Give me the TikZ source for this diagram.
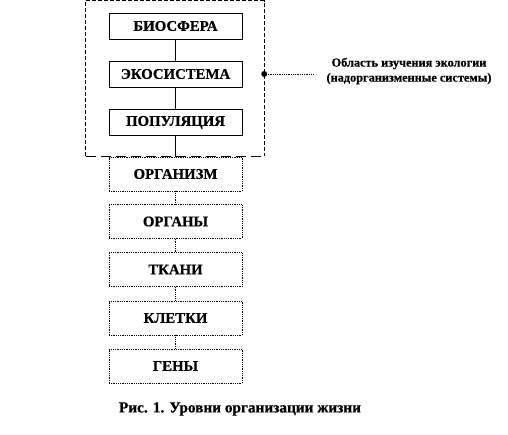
\documentclass[tikz,border=0pt]{standalone}
\usepackage{fontspec}
\setmainfont{Liberation Serif}[BoldFeatures={FakeBold=0.6}]
\begin{document}
\begin{tikzpicture}[x=1pt,y=-1pt,
  lvl/.style={draw, line width=0.8pt, minimum width=133pt, inner sep=0pt, font=\fontsize{14.8}{16}\selectfont\bfseries},
  solidlvl/.style={lvl, minimum height=26pt},
  dotlvl/.style={lvl, densely dotted, minimum height=34pt},
  link/.style={line width=0.8pt},
  dotlink/.style={line width=0.8pt, densely dotted}]
\useasboundingbox (0,0) rectangle (508,435);
\node[solidlvl] (bio) at (175.5,26) {БИОСФЕРА};
\node[solidlvl] (eco) at (175.5,74) {ЭКОСИСТЕМА};
\node[solidlvl] (pop) at (175.5,122.5) {ПОПУЛЯЦИЯ};
\node[dotlvl] (org) at (175.5,174) {ОРГАНИЗМ};
\node[dotlvl] (orgs) at (175.5,221.5) {ОРГАНЫ};
\node[dotlvl] (tis) at (175.5,269.5) {ТКАНИ};
\node[dotlvl] (cel) at (175.5,318) {КЛЕТКИ};
\node[dotlvl] (gen) at (175.5,366) {ГЕНЫ};
\draw[link] (bio) -- (eco);
\draw[link] (eco) -- (pop);
\draw[link] (pop) -- (org);
\draw[dotlink] (org) -- (orgs);
\draw[dotlink] (orgs) -- (tis);
\draw[dotlink] (tis) -- (cel);
\draw[dotlink] (cel) -- (gen);
% region of ecology
\node[minimum width=178pt, minimum height=155pt, inner sep=0pt] (reg) at (175,78.5) {};
\draw[line width=0.8pt, dash pattern=on 4pt off 2pt] (reg.south west) -- (reg.north west) -- (reg.north east) -- (reg.south east);
\draw[line width=0.8pt, dash pattern=on 10pt off 5pt] (reg.south west) -- (reg.south east);
\node[align=center, inner sep=10pt, font=\fontsize{12.3}{15}\selectfont\bfseries] (lbl) at (409,71) {Область изучения экологии\\(надорганизменные системы)};
\coordinate (dot) at (reg.east |- eco);
\draw[dotlink] (dot) -- (313,74);
\fill (dot) circle (3pt);
\node[font=\fontsize{15.3}{17}\selectfont\bfseries] (cap) at (240,409) {Рис. 1. Уровни организации жизни};
\end{tikzpicture}
\end{document}
